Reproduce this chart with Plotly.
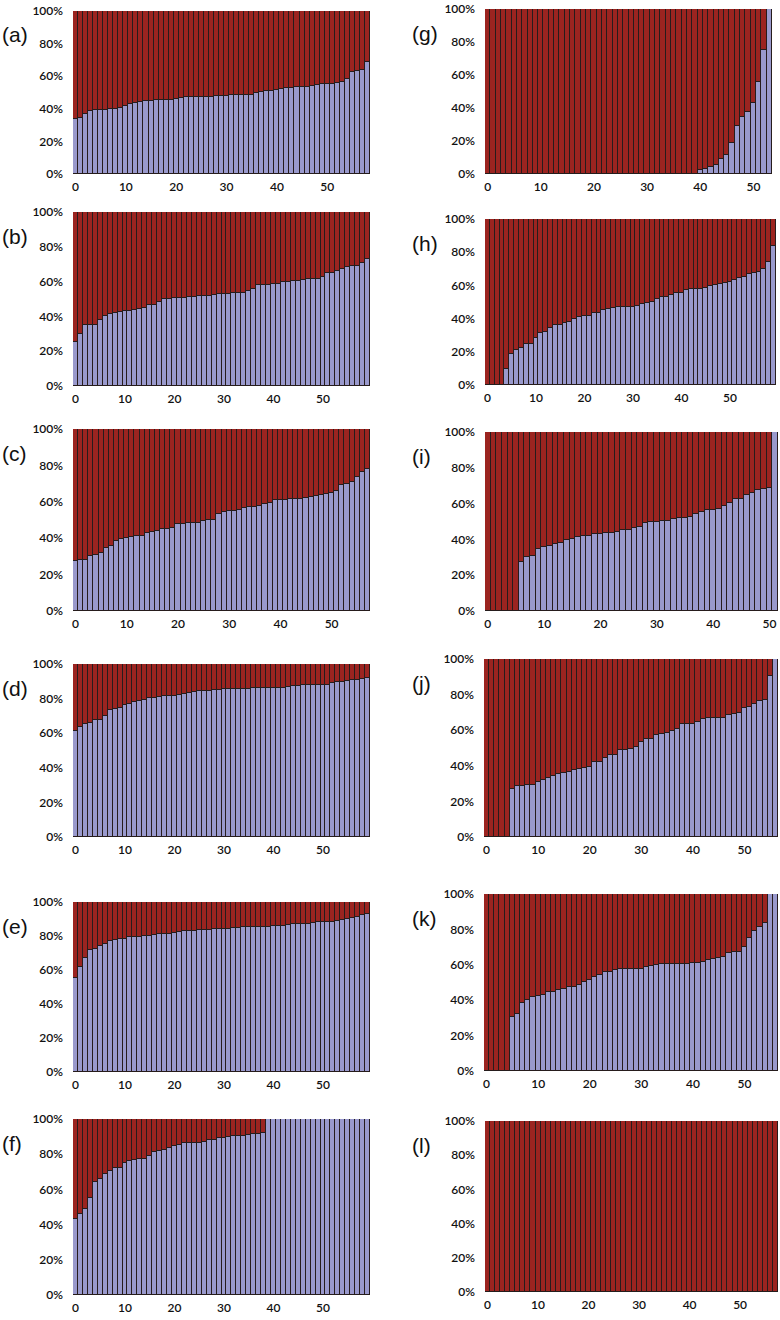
import plotly.graph_objects as go

W, H = 780, 1320

# ---------------- data (share of blue segment, %) ----------------
a_blue = [33.8, 34.4, 37, 38.5, 39, 39, 39, 40, 40, 40.5, 41.5, 43, 43.6, 44, 44.5, 45, 45.3, 45.5, 45.7, 45.7,
          46, 46.7, 47, 47, 47.2, 47.2, 47.3, 47.5, 47.6, 47.8, 48, 48.2, 48.3, 48.4, 48.5, 48.7, 49.8, 50.2, 50.8, 51,
          51.4, 52.2, 52.6, 53, 53.3, 53.5, 53.5, 53.8, 54.3, 55, 55.5, 55.5, 55.7, 56.3, 58.4, 62.5, 63, 63.7, 68.6]
b_blue = [25.3, 29.7, 34.9, 35, 35, 38, 40, 41.6, 42, 42.5, 43, 43.3, 43.8, 44.2, 44.8, 46.5, 46.7, 48, 49.8, 50,
          50.4, 50.4, 50.8, 51.1, 51.1, 52, 52, 52, 52.5, 52.7, 52.7, 52.7, 53.3, 53.6, 53.6, 54.4, 56, 57.9, 58, 58,
          58.4, 58.8, 59.6, 60, 60.2, 60.2, 60.7, 61.3, 61.5, 61.5, 62.6, 64.9, 65, 65.9, 67, 68.4, 68.8, 68.8, 70.7, 73.2]
c_blue = [27.5, 28.2, 28.2, 30.4, 31, 31.9, 34.4, 35.9, 38.5, 39.7, 40.1, 40.8, 41, 41.2, 43, 43.6, 44.1, 44.9, 45, 45.4,
          47.8, 48, 48.2, 48.5, 48.5, 49.6, 50, 50, 53.1, 54.6, 54.9, 55.1, 55.5, 56.6, 57.1, 57.1, 57.7, 59, 59.3, 60.8,
          61, 61.2, 61.4, 61.4, 61.4, 62.3, 62.8, 63, 63.7, 64.3, 65, 65.9, 69.2, 69.6, 71, 73.6, 76.2, 78]
d_blue = [61, 63.6, 65.1, 66.1, 67.4, 67.6, 69.7, 73.6, 74, 74.6, 76.5, 77.1, 78.2, 78.4, 79.4, 80.2, 80.3, 80.9, 81.3, 81.3,
          81.7, 82.1, 82.9, 83.2, 84, 84.2, 84.2, 84.6, 85.2, 85.2, 85.4, 85.5, 85.5, 85.6, 85.7, 85.8, 86, 86.1, 86.1, 86.1,
          86.2, 86.2, 86.3, 86.9, 87.5, 87.5, 87.9, 87.9, 87.9, 88, 88, 88.1, 89, 89.4, 89.5, 90, 90.6, 91, 91.3, 92]
e_blue = [55.5, 61.6, 67.1, 71.5, 72.2, 74.4, 75.2, 76.8, 77.8, 78.3, 78.5, 79.3, 79.7, 79.7, 79.8, 80.1, 80.7, 80.9, 81.1, 81.1,
          81.7, 82.5, 82.9, 83.1, 83.1, 83.5, 83.7, 83.7, 84.1, 84.3, 84.3, 84.3, 84.8, 85, 85.2, 85.2, 85.3, 85.3, 85.4, 85.5,
          85.6, 85.6, 86, 86.2, 87, 87.2, 87.2, 87.2, 87.6, 88.2, 88.2, 88.2, 88.4, 89, 89.6, 89.8, 90.7, 90.9, 92.1, 92.9]
f_blue = [43.2, 46, 48.9, 55.1, 64.2, 65.9, 68.75, 70.6, 72.2, 72.3, 75.2, 75.9, 76.5, 77.1, 77.5, 78.8, 81.3, 81.6, 82.6, 83.3,
          84.5, 85, 86.2, 86.4, 86.4, 86.6, 87.1, 87.9, 88.3, 89, 89.2, 90, 90.3, 90.5, 90.5, 90.7, 91.5, 91.7, 91.9,
          100, 100, 100, 100, 100, 100, 100, 100, 100, 100, 100, 100, 100, 100, 100, 100, 100, 100, 100, 100, 100]
g_blue = [0, 0, 0, 0, 0, 0, 0, 0, 0, 0, 0, 0, 0, 0, 0, 0, 0, 0, 0, 0,
          0, 0, 0, 0, 0, 0, 0, 0, 0, 0, 0, 0, 0, 0, 0, 0, 0, 0, 0, 0,
          2.4, 2.8, 4, 5.4, 9.2, 11.4, 18.7, 29.1, 34.3, 37.8, 43.2, 55.8, 74.9, 100]
h_blue = [0, 0, 0, 0, 9.7, 18.5, 21.1, 22.5, 24.7, 25, 28.6, 31.6, 32.2, 34.2, 36, 36.2, 37.4, 37.8, 40, 41.2,
          41.6, 41.6, 43.5, 43.5, 45.1, 45.5, 46.5, 46.7, 46.7, 46.7, 46.8, 47.7, 48.5, 49.5, 50.1, 51.9, 52.9, 53.3, 54.1, 55.3,
          55.7, 57.1, 57.7, 57.9, 57.9, 58.7, 59.5, 60.4, 61, 61.4, 62, 63.2, 64.2, 64.8, 67, 67.6, 68, 69.8, 74.4, 83.5]
i_blue = [0, 0, 0, 0, 0, 0, 27.5, 29.9, 30.9, 34.6, 35.9, 36.4, 37.2, 38.1, 39.6, 40.1, 41.4, 41.8, 42, 42.8,
          43.1, 43.3, 43.7, 43.9, 45.2, 45.5, 46.1, 46.8, 49.3, 49.6, 49.6, 50.2, 50.4, 51.5, 51.9, 52, 52.4, 54.1, 55.2, 56.3,
          56.7, 56.9, 58.7, 60.6, 62.5, 62.5, 64.7, 66, 67.5, 68.2, 68.8, 100]
j_blue = [0, 0, 0, 0, 0, 27.1, 28.4, 28.4, 29, 29.3, 30.8, 32.1, 33, 34, 35.5, 35.9, 36.8, 37.4, 38.1, 38.5,
          39.6, 41.9, 42.1, 44.5, 45.8, 46.2, 48.6, 49, 49.7, 50.5, 53.3, 55, 55.3, 57.2, 57.6, 58.7, 59.6, 60.9, 63.4, 63.4,
          63.7, 64.7, 66.2, 66.7, 66.9, 66.9, 66.9, 68.6, 69.3, 69.9, 72.5, 72.9, 74.9, 76.3, 77.2, 90.7, 100]
k_blue = [0, 0, 0, 0, 0, 30.7, 32, 38.2, 40.1, 42, 42.5, 42.9, 44.4, 44.8, 45.8, 46.2, 47.3, 47.6, 48.6, 50.3,
          51.2, 53.3, 54, 55.7, 55.9, 57, 57.6, 57.6, 57.6, 57.6, 57.6, 58.9, 59.5, 59.9, 60.3, 60.3, 60.3, 60.3, 60.3, 60.3,
          60.9, 61.2, 61.4, 62.7, 63.3, 63.7, 64.6, 66.9, 67, 67.4, 70.2, 75.3, 79.3, 81.4, 83.8, 100, 100]
l_blue = [0] * 58

panel_labels = ["(a)", "(b)", "(c)", "(d)", "(e)", "(f)", "(g)", "(h)", "(i)", "(j)", "(k)", "(l)"]
panel_data = [a_blue, b_blue, c_blue, d_blue, e_blue, f_blue, g_blue, h_blue, i_blue, j_blue, k_blue, l_blue]

y_tickvals = [0, 20, 40, 60, 80, 100]
y_ticktext = ["0%", "20%", "40%", "60%", "80%", "100%"]
x_tickvals = [0, 10, 20, 30, 40, 50]

BLUE = "#9999cc"
RED = "#9b2420"
EDGE = "#261c1c"

# plot-area boxes in pixels: (left, right, top, bottom)
boxes = [
    (73, 370, 11, 174), (73, 370, 212, 386), (73, 370, 429, 611),
    (73, 370, 664, 837), (73, 370, 902, 1072), (73, 370, 1119, 1295),
    (485, 772, 9, 174), (485, 776, 219, 385), (485, 778, 432, 611),
    (484, 778, 659, 837), (484, 778, 894, 1071), (485, 778, 1121, 1292),
]

TICKFONT = dict(family="Lato, sans-serif", size=12, color="#111", weight=600)

fig = go.Figure()
layout = dict(
    width=W, height=H,
    margin=dict(l=0, r=0, t=0, b=0),
    paper_bgcolor="white", plot_bgcolor="white",
    barmode="stack", bargap=0,
    showlegend=False,
    annotations=[],
    font=dict(family="Lato, Open Sans, sans-serif", size=11, color="#111"),
)

for idx, (lab, blue) in enumerate(zip(panel_labels, panel_data)):
    n = idx + 1
    xa = "x" if n == 1 else f"x{n}"
    ya = "y" if n == 1 else f"y{n}"
    cats = list(range(len(blue)))
    red = [100 - v for v in blue]
    fig.add_trace(go.Bar(x=cats, y=blue, xaxis=xa, yaxis=ya, marker_color=BLUE,
                         marker_line=dict(color=EDGE, width=1), width=1))
    fig.add_trace(go.Bar(x=cats, y=red, xaxis=xa, yaxis=ya, marker_color=RED,
                         marker_line=dict(color=EDGE, width=1), width=1))
    l, r, t, b = boxes[idx]
    xd = [l / W, r / W]
    yd = [1 - b / H, 1 - t / H]
    layout["xaxis" if n == 1 else f"xaxis{n}"] = dict(
        domain=xd, anchor=ya, range=[-0.5, len(blue) - 0.5],
        tickvals=x_tickvals, ticks="", showgrid=False, zeroline=False,
        showline=False, ticklabelstandoff=4, automargin=False,
        tickfont=TICKFONT,
    )
    layout["yaxis" if n == 1 else f"yaxis{n}"] = dict(
        domain=yd, anchor=xa, range=[0, 100],
        tickvals=y_tickvals, ticktext=y_ticktext, ticks="", showgrid=False,
        zeroline=False, showline=False, ticklabelstandoff=9, automargin=False,
        tickfont=TICKFONT,
    )
    lx = 0 if idx < 6 else 410
    layout["annotations"].append(dict(
        text=lab, x=lx / W, y=1 - (t + 24) / H, xref="paper", yref="paper",
        xanchor="left", yanchor="middle", showarrow=False,
        font=dict(family="Liberation Sans, Arial, sans-serif", size=21, color="#111"),
    ))

fig.update_layout(**layout)
fig.write_html(
    "out.html",
    config={"displayModeBar": False},
    post_script="document.body.style.margin='0';document.body.style.overflow='hidden';",
)
